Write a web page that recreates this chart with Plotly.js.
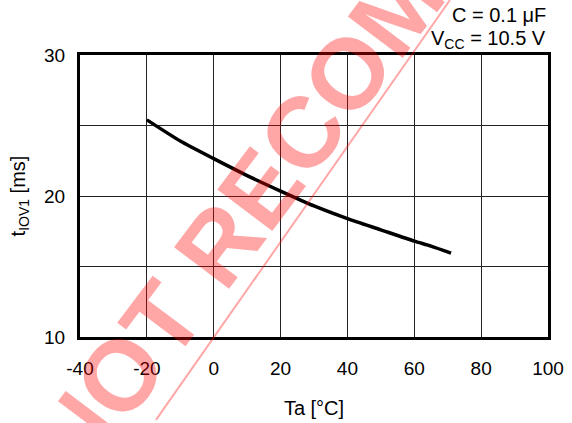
<!DOCTYPE html>
<html>
<head>
<meta charset="utf-8">
<script src="https://cdn.plot.ly/plotly-3.0.1.min.js"></script>
<style>html,body{margin:0;padding:0;background:#fff;}#chart{width:572px;height:423px;}</style>
</head>
<body>
<div id="chart"></div>
<script>
// Data
const ta = [-20, -10, 0, 10, 20, 30, 40, 50, 60, 65, 71];
const tIOV1 = [25.4, 23.9, 22.65, 21.45, 20.35, 19.3, 18.4, 17.6, 16.8, 16.45, 15.95];

const xTickVals = [-40, -20, 0, 20, 40, 60, 80, 100];
const xTickText = ['-40', '-20', '0', '20', '40', '60', '80', '100'];
const yTickVals = [10, 15, 20, 25, 30];
const yTickText = ['10', '', '20', '', '30'];

const noteC = 'C = 0.1 μF';
const noteVcc = 'V<sub>CC</sub> = 10.5 V';
const xTitle = 'Ta [°C]';
const yTitle = 't<sub>IOV1</sub> [ms]';
const watermark = 'NOT RECOMMENDED';

const FONT = 'Liberation Sans, Arial, sans-serif';
const wmColor = 'rgba(255,0,0,0.35)';

const trace = {
  x: ta, y: tIOV1, type: 'scatter', mode: 'lines',
  line: {color: '#000', width: 3.5, shape: 'spline', smoothing: 0.6},
  hoverinfo: 'skip'
};

const axisCommon = {
  showgrid: true, gridcolor: '#222', gridwidth: 1,
  zeroline: false, showline: true, linecolor: '#000', linewidth: 3, mirror: true,
  ticks: '', tickfont: {family: FONT, size: 19, color: '#000'}
};

const layout = {
  width: 572, height: 423,
  margin: {l: 80, r: 24, t: 55, b: 86},
  paper_bgcolor: '#fff', plot_bgcolor: '#fff',
  showlegend: false,
  font: {family: FONT, color: '#000'},
  xaxis: Object.assign({}, axisCommon, {
    range: [-40, 100], tickvals: xTickVals, ticktext: xTickText,
    ticklabelstandoff: 12,
    title: {text: xTitle, font: {family: FONT, size: 20, color: '#000'}, standoff: 24}
  }),
  yaxis: Object.assign({}, axisCommon, {
    range: [10, 30], tickvals: yTickVals, ticktext: yTickText,
    ticklabelstandoff: 8,
    title: {text: yTitle, font: {family: FONT, size: 20, color: '#000'}, standoff: 14}
  }),
  annotations: [
    {text: noteC, xref: 'paper', yref: 'paper', x: 1.0, y: 1.142, xanchor: 'right', yanchor: 'middle',
     showarrow: false, font: {family: FONT, size: 20, color: '#000'}},
    {text: noteVcc, xref: 'paper', yref: 'paper', x: 1.0, y: 1.055, xanchor: 'right', yanchor: 'middle',
     showarrow: false, font: {family: FONT, size: 20, color: '#000'}},
    {text: '<b>' + watermark + '</b>', xref: 'paper', yref: 'paper', x: 0.613, y: 1.03,
     xanchor: 'center', yanchor: 'middle', textangle: -53,
     showarrow: false, font: {family: FONT, size: 100, color: wmColor}}
  ],
  shapes: [
    {type: 'line', xref: 'paper', yref: 'paper', x0: 0.7906, y0: 1.195, x1: 0.1624, y1: -0.294,
     line: {color: wmColor, width: 2}, layer: 'above'}
  ]
};

Plotly.newPlot('chart', [trace], layout, {displayModeBar: false, staticPlot: true});
</script>
</body>
</html>
